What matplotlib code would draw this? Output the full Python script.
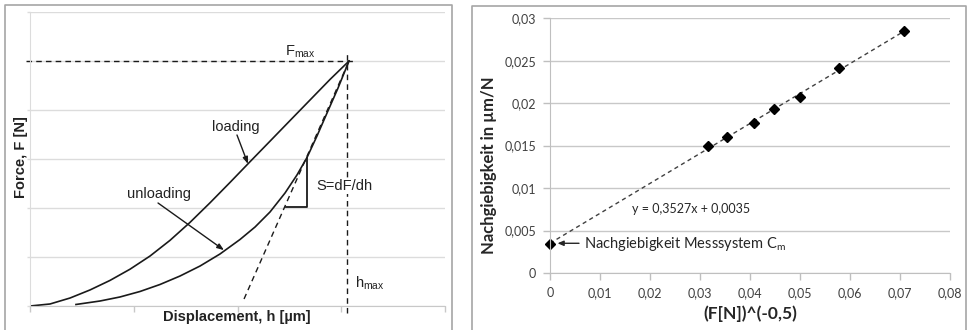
import matplotlib
matplotlib.use("Agg")
import matplotlib.pyplot as plt
from matplotlib.lines import Line2D
from matplotlib.ticker import FuncFormatter

plt.rcParams['mathtext.default'] = 'regular'

# left chart: schematic load-displacement curve (arbitrary units)
load_h = [0, 0.193, 0.386, 0.578, 0.771, 0.964, 1.157, 1.349, 1.542, 1.735, 1.928,
          2.120, 2.313, 2.506, 2.699, 2.892, 3.075]
load_F = [0, 0.041, 0.163, 0.327, 0.522, 0.751, 1.020, 1.339, 1.706, 2.106, 2.522,
          2.943, 3.363, 3.784, 4.204, 4.624, 5.0]
unload_h = [0.443, 0.675, 0.867, 1.060, 1.253, 1.446, 1.639, 1.831, 2.024, 2.169, 2.313,
            2.458, 2.573, 2.670, 2.766, 2.863, 2.969, 3.075]
unload_F = [0.031, 0.102, 0.184, 0.296, 0.439, 0.612, 0.816, 1.061, 1.357, 1.612, 1.918,
            2.306, 2.673, 3.031, 3.469, 3.939, 4.449, 5.0]
tangent_h = [2.063, 3.075]
tangent_F = [0.143, 5.0]
triangle_h = [2.467, 2.670, 2.670]
triangle_F = [2.02, 2.02, 3.03]
F_max = 5.0
h_max = 3.06

# right chart: compliance vs F^-0.5
x_pts = [0, 0.0316, 0.0354, 0.0408, 0.0447, 0.05, 0.0577, 0.0707]
y_pts = [0.00345, 0.0150, 0.0160, 0.01765, 0.0193, 0.02075, 0.0242, 0.0285]
slope = 0.3527
intercept = 0.0035

fig = plt.figure(figsize=(9.68, 3.3), dpi=100)

# panel borders
for xs, ys in [([4.5, 4.5, 452, 452], [330, 5, 5, 330]),
               ([472, 472, 966, 966], [330, 6, 6, 330])]:
    fig.add_artist(Line2D([x / 968 for x in xs], [1 - y / 330 for y in ys],
                          color='#a6a6a6', lw=1.2, transform=fig.transFigure))

# ---------------- left ----------------
lf = 'Liberation Sans'
ax1 = fig.add_axes([30 / 968, 1 - 306 / 330, 415 / 968, 294 / 330])
ax1.set_xlim(0, 4)
ax1.set_ylim(0, 6)
ax1.set_xticks([0, 1, 2, 3, 4])
ax1.set_yticks([0, 1, 2, 3, 4, 5, 6])
ax1.set_xticklabels([])
ax1.set_yticklabels([])
ax1.tick_params(axis='x', length=4, color='#c8c8c8', width=1)
ax1.tick_params(axis='y', length=2, color='#dcdcdc', width=1)
ax1.grid(axis='y', color='#dcdcdc', lw=1)
ax1.set_axisbelow(True)
for s in ['top', 'right']:
    ax1.spines[s].set_visible(False)
ax1.spines['left'].set_color('#dcdcdc')
ax1.spines['bottom'].set_color('#c8c8c8')

ax1.plot(load_h, load_F, color='#1a1a1a', lw=1.2)
ax1.plot(unload_h, unload_F, color='#1a1a1a', lw=1.2)
ax1.plot(tangent_h, tangent_F, color='#1a1a1a', lw=1, ls=(0, (4, 3)))
ax1.plot(triangle_h, triangle_F, color='#1a1a1a', lw=1.3)
ax1.plot([-0.04, 3.11], [F_max, F_max], color='#1a1a1a', lw=1, ls=(0, (4, 3)), clip_on=False)
ax1.plot([h_max, h_max], [-0.14, 5.18], color='#1a1a1a', lw=1, ls=(0, (4, 3)), clip_on=False)

tc = '#222222'
ax1.text(2.458, 5.12, r'F$_{max}$', fontsize=10.5, family=lf, color=tc, va='baseline')
ax1.text(3.133, 0.367, r'h$_{max}$', fontsize=10.5, family=lf, color=tc, va='baseline')
ax1.text(1.754, 3.65, 'loading', fontsize=10.5, family=lf, color=tc, va='center')
ax1.text(0.935, 2.29, 'unloading', fontsize=10.5, family=lf, color=tc, va='center')
ax1.text(2.757, 2.45, 'S=dF/dh', fontsize=10.5, family=lf, color=tc, va='center', zorder=5,
         bbox=dict(facecolor='white', edgecolor='none', pad=0.5))
arr = dict(arrowstyle='-|>,head_length=0.4,head_width=0.15', color='#1a1a1a', lw=1, shrinkA=0, shrinkB=0)
ax1.annotate('', xy=(2.101, 2.90), xytext=(1.995, 3.49), arrowprops=arr)
ax1.annotate('', xy=(1.87, 1.14), xytext=(1.234, 2.102), arrowprops=arr)

ax1.text(0.499, -0.037, 'Displacement, h [µm]', transform=ax1.transAxes, fontsize=10.5,
         family=lf, weight='bold', color=tc, ha='center', va='center')
ax1.text(-0.022, 0.507, 'Force, F [N]', transform=ax1.transAxes, fontsize=10.5,
         family=lf, weight='bold', color=tc, ha='center', va='center', rotation=90)

# ---------------- right ----------------
rf = ['Lato', 'DejaVu Sans']
ax2 = fig.add_axes([550 / 968, 1 - 273 / 330, 400 / 968, 254.7 / 330])
ax2.set_xlim(0, 0.08)
ax2.set_ylim(0, 0.03)
ax2.set_xticks([i * 0.01 for i in range(9)])
ax2.set_yticks([i * 0.005 for i in range(7)])
comma = FuncFormatter(lambda v, p: ('%g' % round(v, 4)).replace('.', ','))
ax2.xaxis.set_major_formatter(comma)
ax2.yaxis.set_major_formatter(comma)
ax2.tick_params(length=5, color='#bfbfbf', width=1, labelsize=9, labelcolor='#404040', pad=5)
for lab in ax2.get_xticklabels() + ax2.get_yticklabels():
    lab.set_family(rf)
ax2.grid(axis='y', color='#c8c8c8', lw=1)
ax2.set_axisbelow(True)
for s in ['top', 'right']:
    ax2.spines[s].set_visible(False)
ax2.spines['left'].set_color('#bfbfbf')
ax2.spines['bottom'].set_color('#bfbfbf')

fit_x = [0, max(x_pts)]
fit_y = [slope * v + intercept for v in fit_x]
ax2.plot(fit_x, fit_y, color='#404040', lw=1, ls=(0, (3, 2.5)))
ax2.plot(x_pts, y_pts, 'D', color='black', ms=5.5, clip_on=False)

ax2.text(0.0164, 0.00754, 'y = 0,3527x + 0,0035', fontsize=9, family=rf, color='#262626', va='center')
ax2.annotate('', xy=(0.0015, 0.0035), xytext=(0.0058, 0.0035),
             arrowprops=dict(arrowstyle='-|>,head_length=0.35,head_width=0.15', color='#262626', lw=1,
                             shrinkA=0, shrinkB=0))
ax2.text(0.0068, 0.00342, r'Nachgiebigkeit Messsystem C$_m$', fontsize=10.5, family=rf,
         color='#262626', va='center')

ax2.text(0.5, -0.161, '(F[N])^(-0,5)', transform=ax2.transAxes, fontsize=12.5, family=rf,
         weight='bold', color='#262626', ha='center', va='center')
ax2.text(-0.1525, 0.424, 'Nachgiebigkeit in µm/N', transform=ax2.transAxes, fontsize=12,
         family=rf, weight='bold', color='#262626', ha='center', va='center', rotation=90)

fig.savefig('out.png', dpi=100)
